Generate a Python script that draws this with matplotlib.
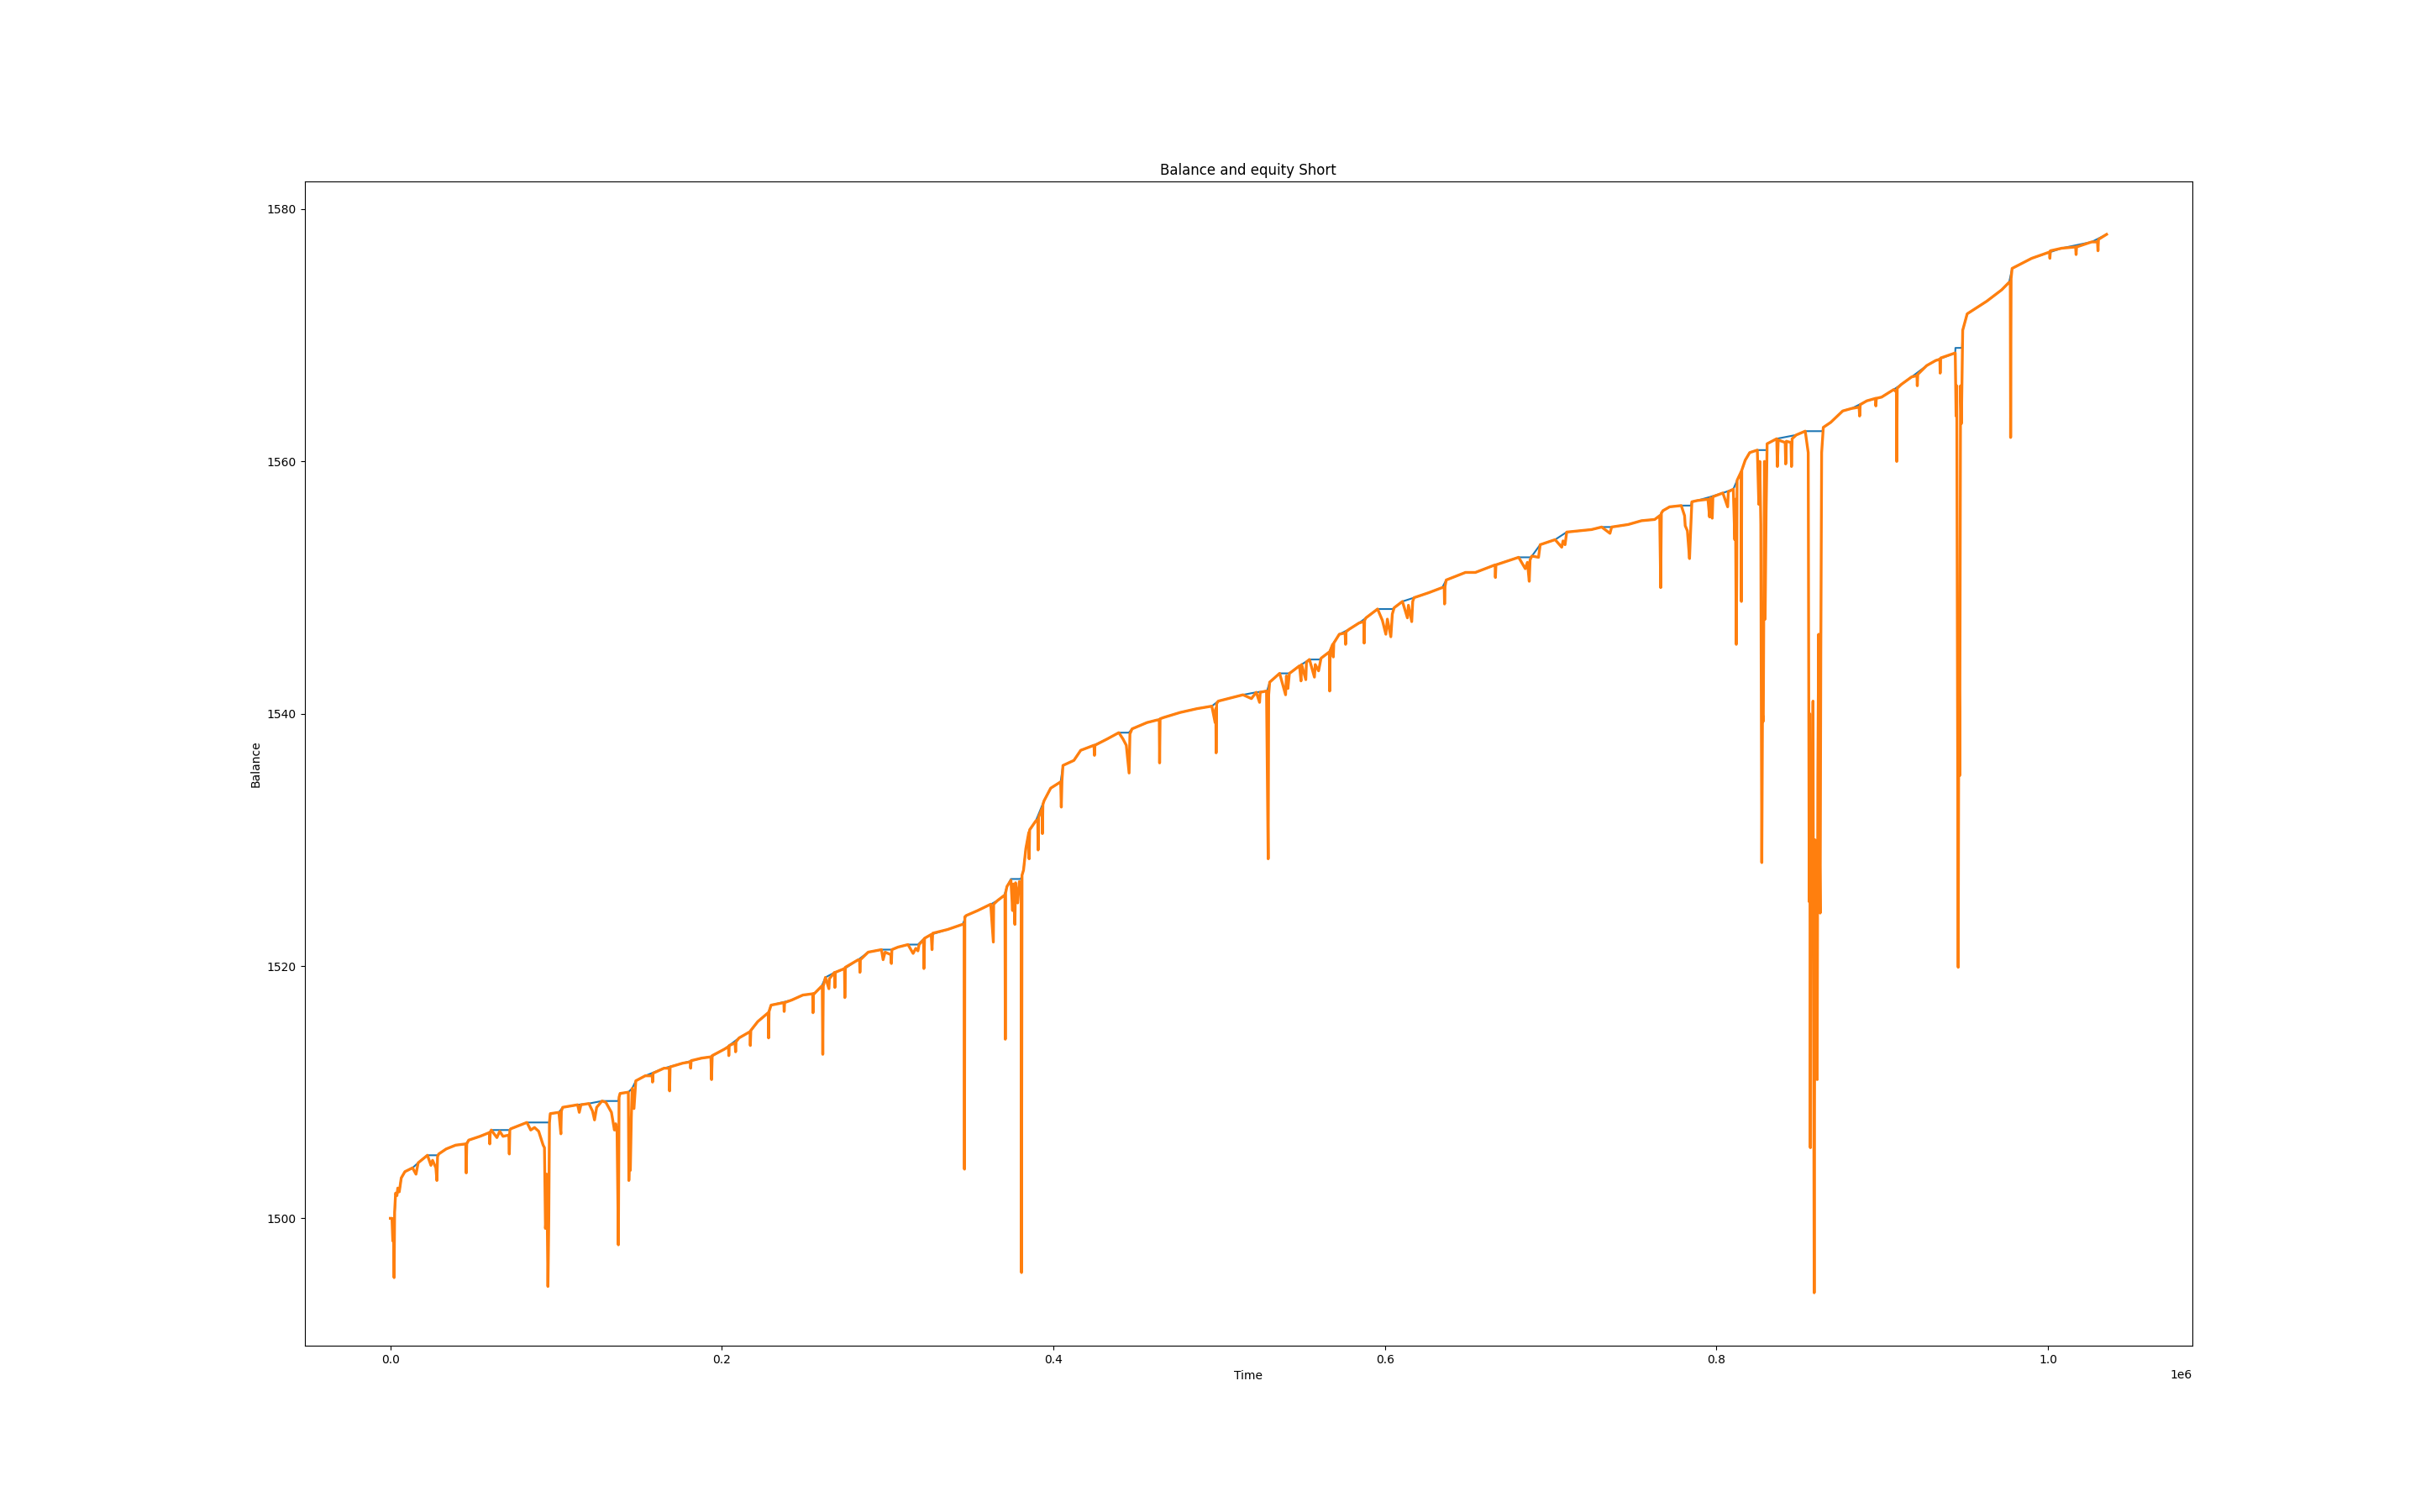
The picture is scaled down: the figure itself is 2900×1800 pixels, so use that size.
import matplotlib
import numpy as np

matplotlib.use("Agg")
import matplotlib.pyplot as plt

# balance curve: (time in thousands, balance)
balance_pts = [
    (0, 1500.0), (2.5, 1500.0), (3.2, 1502.0), (5.4, 1502.1), (6.6, 1503.2),
    (8.8, 1503.7), (13.4, 1504.0), (16.8, 1504.4), (22.4, 1505.0), (28.5, 1505.0),
    (29.2, 1505.1), (33.7, 1505.5), (39.4, 1505.8), (45.5, 1505.9), (47.3, 1506.2),
    (54.1, 1506.5), (59.8, 1506.8), (60.9, 1507.0), (71.8, 1507.0), (72.7, 1507.1),
    (82.4, 1507.6), (96.0, 1507.6), (96.5, 1508.3), (101.7, 1508.4), (104.0, 1508.8),
    (113.0, 1509.0), (119.8, 1509.1), (127.7, 1509.3), (137.5, 1509.3), (138.6, 1509.9),
    (143.6, 1510.0), (145.9, 1510.3), (148.1, 1510.9), (153.8, 1511.3), (165.1, 1511.9),
    (176.4, 1512.3), (187.8, 1512.7), (193.4, 1512.8), (201.4, 1513.4), (210.4, 1514.3),
    (217.2, 1514.8), (221.7, 1515.6), (228.1, 1516.3), (229.7, 1516.9), (242.1, 1517.3),
    (248.9, 1517.7), (255.7, 1517.8), (260.2, 1518.4), (262.5, 1519.1), (268.2, 1519.5),
    (274.2, 1519.8), (282.3, 1520.5), (288.3, 1521.1), (296.3, 1521.3), (302.3, 1521.3),
    (306.3, 1521.5), (312.3, 1521.7), (318.3, 1521.7), (322.3, 1522.2), (326.3, 1522.5),
    (336.3, 1522.9), (345.3, 1523.3), (347.4, 1524.0), (354.4, 1524.4), (362.4, 1524.9),
    (366.4, 1525.2), (370.4, 1525.6), (372.0, 1526.3), (374.4, 1526.9), (380.4, 1526.9),
    (382.0, 1527.6), (383.4, 1529.3), (385.4, 1530.7), (389.4, 1531.5), (394.4, 1533.1),
    (398.4, 1534.1), (404.4, 1534.6), (405.8, 1535.9), (412.4, 1536.3), (416.5, 1537.1),
    (424.5, 1537.5), (432.5, 1538.0), (439.5, 1538.5), (445.5, 1538.5), (447.5, 1538.8),
    (456.5, 1539.3), (462.5, 1539.5), (466.5, 1539.7), (476.5, 1540.1), (486.6, 1540.4),
    (495.6, 1540.6), (499.5, 1541.0), (508.4, 1541.3), (514.4, 1541.5), (522.4, 1541.7),
    (528.9, 1541.8), (530.5, 1542.5), (536.5, 1543.2), (542.0, 1543.2), (543.5, 1543.3),
    (548.5, 1543.8), (554.5, 1544.3), (560.5, 1544.3), (561.5, 1544.4), (566.5, 1544.9),
    (568.5, 1545.5), (572.5, 1546.3), (578.5, 1546.7), (584.5, 1547.2), (588.6, 1547.6),
    (595.6, 1548.3), (604.6, 1548.3), (605.6, 1548.4), (610.6, 1548.9), (617.6, 1549.2),
    (626.6, 1549.6), (634.6, 1550.0), (637.0, 1550.6), (648.6, 1551.2), (654.6, 1551.2),
    (666.7, 1551.8), (680.7, 1552.4), (687.7, 1552.4), (688.7, 1552.5), (693.7, 1553.4),
    (702.7, 1553.8), (709.7, 1554.4), (724.7, 1554.6), (730.8, 1554.8), (736.8, 1554.8),
    (746.8, 1555.0), (754.8, 1555.3), (762.8, 1555.4), (765.8, 1555.7), (767.8, 1556.1),
    (771.8, 1556.4), (778.8, 1556.5), (784.6, 1556.5), (785.2, 1556.8), (788.5, 1556.9),
    (796.6, 1557.2), (803.9, 1557.5), (810.2, 1557.8), (812.5, 1558.5), (815.1, 1559.2),
    (817.4, 1560.1), (820.1, 1560.7), (824.7, 1560.9), (830.4, 1560.9), (830.6, 1561.4),
    (836.4, 1561.8), (848.2, 1562.1), (853.6, 1562.4), (864.0, 1562.4), (864.5, 1562.7),
    (869.0, 1563.1), (876.2, 1564.0), (881.6, 1564.2), (890.7, 1564.8), (899.7, 1565.1),
    (907.0, 1565.7), (911.5, 1566.1), (917.8, 1566.7), (926.9, 1567.6), (932.3, 1568.0),
    (944.1, 1568.6), (944.2, 1569.0), (948.2, 1569.0), (948.6, 1570.4), (951.3, 1571.7),
    (963.1, 1572.7), (972.1, 1573.6), (976.6, 1574.2), (978.4, 1575.3), (990.2, 1576.1),
    (1008.3, 1576.9), (1026.4, 1577.4), (1035.4, 1578.0),
]

# equity curve: (time in thousands, equity)
equity_pts = [
    (0, 1500.0), (1.0, 1500.0), (1.5, 1498.2), (2.0, 1499.5), (2.3, 1495.3),
    (2.6, 1500.5), (3.2, 1502.0), (4.0, 1501.8), (4.5, 1502.4), (5.4, 1502.1),
    (6.6, 1503.2), (8.8, 1503.7), (13.4, 1504.0), (15.5, 1503.5), (16.8, 1504.4),
    (22.4, 1505.0), (24.5, 1504.2), (25.5, 1504.6), (27.5, 1504.0), (28.1, 1503.0),
    (28.5, 1504.9), (29.2, 1505.1), (33.7, 1505.5), (39.4, 1505.8), (45.5, 1505.9),
    (45.8, 1503.6), (46.1, 1505.9), (47.3, 1506.2), (54.1, 1506.5), (59.8, 1506.8),
    (60.0, 1505.9), (60.3, 1506.8), (60.9, 1507.0), (64.3, 1506.4), (66.0, 1506.9),
    (68.0, 1506.5), (71.5, 1506.6), (71.8, 1505.1), (72.1, 1507.0), (72.7, 1507.1),
    (82.4, 1507.6), (84.7, 1507.0), (87.0, 1507.2), (89.5, 1506.9), (92.2, 1505.8),
    (93.0, 1505.6), (93.6, 1499.2), (94.0, 1500.0), (94.4, 1503.5), (95.1, 1494.6),
    (95.6, 1499.8), (96.0, 1507.6), (96.5, 1508.3), (101.7, 1508.4), (102.9, 1506.7),
    (103.2, 1508.5), (104.0, 1508.8), (113.0, 1509.0), (114.0, 1508.4), (115.0, 1509.0),
    (119.8, 1509.1), (122.0, 1508.5), (123.2, 1507.8), (124.5, 1508.8), (127.7, 1509.3),
    (130.0, 1509.2), (133.4, 1508.4), (135.2, 1507.0), (136.0, 1507.5), (136.8, 1506.8),
    (137.6, 1497.9), (138.0, 1509.6), (138.6, 1509.9), (143.6, 1510.0), (143.9, 1503.0),
    (144.4, 1505.5), (144.8, 1503.8), (145.4, 1508.0), (145.9, 1510.3), (147.0, 1508.7),
    (148.1, 1510.9), (153.8, 1511.3), (158.0, 1511.3), (158.2, 1510.8), (158.5, 1511.5),
    (165.1, 1511.9), (168.3, 1511.9), (168.5, 1510.1), (168.8, 1512.0), (176.4, 1512.3),
    (181.0, 1512.4), (181.2, 1511.9), (181.5, 1512.5), (187.8, 1512.7), (193.4, 1512.8),
    (193.8, 1511.0), (194.2, 1512.9), (201.4, 1513.4), (204.0, 1513.6), (204.2, 1512.9),
    (204.5, 1513.7), (208.0, 1513.9), (208.3, 1513.2), (208.6, 1514.0),
    (210.4, 1514.3), (217.0, 1514.8), (217.2, 1513.7), (217.5, 1514.9), (221.7, 1515.6),
    (228.0, 1516.3), (228.2, 1514.3), (228.5, 1516.4), (229.7, 1516.9), (237.4, 1517.1),
    (237.6, 1516.4), (237.9, 1517.1), (242.1, 1517.3), (248.9, 1517.7), (254.8, 1517.8),
    (255.0, 1516.3), (255.3, 1517.8), (255.7, 1517.8), (260.2, 1518.4), (260.6, 1518.3),
    (260.9, 1513.0), (261.2, 1518.4), (262.5, 1519.1), (264.6, 1518.2), (264.9, 1519.0),
    (268.0, 1519.5), (268.2, 1518.3), (268.5, 1519.5), (274.0, 1519.8), (274.2, 1517.5),
    (274.5, 1519.9), (282.3, 1520.5), (283.1, 1520.4), (283.3, 1519.5), (283.6, 1520.5),
    (288.3, 1521.1), (296.3, 1521.3), (297.3, 1520.5), (298.5, 1521.1), (302.0, 1520.9),
    (302.3, 1520.2), (302.6, 1521.3), (306.3, 1521.5), (312.3, 1521.7), (315.4, 1521.0),
    (317.0, 1521.4), (318.3, 1521.2), (319.0, 1521.7), (321.7, 1522.1), (321.9, 1519.8),
    (322.3, 1522.2), (326.3, 1522.5), (326.8, 1521.3), (327.2, 1522.6), (336.3, 1522.9),
    (345.1, 1523.3), (346.2, 1523.3), (346.4, 1503.9), (346.6, 1523.9), (347.4, 1524.0),
    (354.4, 1524.4), (362.2, 1524.9), (363.8, 1521.9), (364.0, 1524.9), (366.4, 1525.2),
    (370.4, 1525.6), (370.8, 1525.4), (371.0, 1514.2), (371.2, 1525.8), (372.0, 1526.3),
    (374.4, 1526.8), (375.4, 1524.4), (375.8, 1526.5), (376.8, 1523.3), (377.2, 1526.6),
    (378.5, 1525.0), (379.5, 1526.7), (380.6, 1526.6), (380.8, 1495.7), (381.1, 1527.2),
    (382.0, 1527.6), (383.4, 1529.3), (385.2, 1530.6), (385.4, 1528.5), (385.7, 1530.8),
    (389.4, 1531.5), (390.6, 1531.6), (390.8, 1529.2), (391.1, 1531.8), (393.2, 1532.5),
    (393.4, 1530.5), (393.7, 1532.8), (394.4, 1533.1), (398.4, 1534.1), (404.4, 1534.6),
    (404.8, 1532.6), (405.2, 1534.7), (405.8, 1535.9), (412.4, 1536.3), (416.5, 1537.1),
    (424.5, 1537.5), (424.8, 1536.7), (425.1, 1537.5), (432.5, 1538.0), (439.5, 1538.5),
    (442.0, 1538.0), (444.0, 1537.5), (445.7, 1535.3), (446.2, 1538.4), (447.5, 1538.8),
    (456.5, 1539.3), (462.5, 1539.5), (463.9, 1539.5), (464.1, 1536.1), (464.4, 1539.6),
    (466.5, 1539.7), (476.5, 1540.1), (486.6, 1540.4), (495.6, 1540.6), (497.6, 1539.3),
    (498.0, 1540.4), (498.2, 1536.9), (498.5, 1540.8), (499.5, 1541.0), (508.4, 1541.3),
    (514.4, 1541.5), (519.5, 1541.2), (522.4, 1541.7), (524.4, 1540.9), (524.8, 1541.7),
    (528.6, 1541.8), (529.6, 1528.5), (529.9, 1541.5), (530.5, 1542.5), (536.5, 1543.2),
    (540.1, 1541.5), (540.6, 1543.0), (541.5, 1542.0), (542.4, 1543.2), (543.5, 1543.3),
    (548.5, 1543.8), (549.4, 1542.6), (549.8, 1543.9), (552.3, 1542.7), (552.7, 1544.1),
    (554.5, 1544.3), (557.5, 1542.9), (558.0, 1543.9), (560.0, 1543.4), (561.5, 1544.4),
    (566.5, 1544.9), (566.7, 1541.8), (567.0, 1545.0), (568.5, 1545.5), (568.9, 1544.5),
    (569.2, 1545.6), (572.5, 1546.3), (576.0, 1546.4), (576.3, 1545.5), (576.6, 1546.5),
    (578.5, 1546.7), (584.5, 1547.2), (587.3, 1547.3), (587.5, 1545.6), (587.8, 1547.4),
    (588.6, 1547.6), (595.6, 1548.3), (598.5, 1547.4), (600.6, 1546.3), (601.5, 1547.5),
    (603.6, 1546.1), (604.5, 1547.9), (605.6, 1548.4), (610.6, 1548.9), (613.6, 1547.6),
    (614.2, 1548.6), (616.2, 1547.3), (616.8, 1548.9), (617.6, 1549.2), (626.6, 1549.6),
    (634.6, 1550.0), (635.8, 1550.0), (636.0, 1548.7), (636.3, 1550.1), (637.0, 1550.6),
    (648.6, 1551.2), (654.6, 1551.2), (666.5, 1551.8), (666.7, 1550.8), (667.0, 1551.8),
    (680.7, 1552.4), (684.7, 1551.5), (686.0, 1552.0), (687.1, 1550.5), (687.6, 1552.2),
    (688.7, 1552.5), (692.7, 1552.4), (693.7, 1553.4), (702.7, 1553.8), (706.7, 1553.2),
    (707.5, 1553.7), (708.7, 1553.4), (709.7, 1554.4), (724.7, 1554.6), (730.8, 1554.8),
    (735.8, 1554.3), (736.8, 1554.8), (746.8, 1555.0), (754.8, 1555.3), (762.8, 1555.4),
    (765.8, 1555.7), (766.4, 1550.0), (766.8, 1555.9), (767.8, 1556.1), (771.8, 1556.4),
    (778.8, 1556.5), (780.8, 1555.7), (781.2, 1554.9), (782.5, 1554.5), (783.8, 1552.3),
    (784.3, 1554.0), (785.2, 1556.8), (788.5, 1556.9), (794.9, 1557.0), (795.9, 1555.6),
    (796.3, 1557.1), (797.5, 1555.5), (797.9, 1557.2), (803.9, 1557.5), (806.8, 1556.4),
    (807.2, 1557.6), (810.2, 1557.8), (811.1, 1553.8), (811.5, 1557.0), (812.0, 1545.5),
    (812.3, 1551.0), (812.5, 1558.5), (815.0, 1559.2), (815.1, 1548.9), (815.3, 1559.3),
    (817.4, 1560.1), (820.1, 1560.7), (824.7, 1560.9), (825.6, 1556.6), (826.2, 1560.0),
    (826.8, 1555.0), (827.0, 1545.0), (827.4, 1528.2), (827.8, 1540.0), (828.3, 1539.4),
    (828.6, 1548.0), (829.0, 1560.0), (829.4, 1547.5), (830.0, 1556.0), (830.6, 1561.4),
    (836.4, 1561.8), (836.8, 1559.6), (837.3, 1561.7), (841.5, 1561.5), (841.8, 1559.8),
    (842.2, 1561.6), (845.0, 1561.5), (845.3, 1559.6), (845.7, 1561.8), (848.2, 1562.1),
    (853.6, 1562.4), (855.4, 1560.7), (856.0, 1525.1), (856.3, 1540.0), (856.7, 1505.6),
    (857.1, 1535.0), (857.6, 1528.0), (858.3, 1541.0), (859.0, 1494.1), (859.5, 1530.0),
    (860.0, 1526.0), (860.8, 1511.0), (861.2, 1535.0), (861.7, 1546.3), (862.2, 1530.0),
    (862.6, 1524.2), (863.0, 1545.0), (863.5, 1560.7), (864.5, 1562.7), (869.0, 1563.1),
    (876.2, 1564.0), (881.6, 1564.2), (886.1, 1564.3), (886.4, 1563.6), (886.8, 1564.5),
    (890.7, 1564.8), (896.0, 1565.0), (896.2, 1564.4), (896.5, 1565.0),
    (899.7, 1565.1), (907.0, 1565.7), (908.6, 1565.5), (908.8, 1560.0),
    (909.1, 1565.8), (911.5, 1566.1), (917.8, 1566.7), (921.0, 1566.8), (921.2, 1566.0),
    (921.5, 1566.9), (926.9, 1567.6), (932.3, 1568.0), (934.8, 1568.1), (935.0, 1567.0),
    (935.3, 1568.2), (944.1, 1568.6), (944.6, 1563.6), (945.0, 1566.0), (945.9, 1519.9),
    (946.3, 1545.0), (946.8, 1535.1), (947.3, 1566.0), (947.8, 1563.0), (948.6, 1570.4),
    (951.3, 1571.7), (963.1, 1572.7), (972.1, 1573.6), (976.6, 1574.2), (977.3, 1574.0),
    (977.5, 1561.9), (977.8, 1574.5), (978.4, 1575.3), (990.2, 1576.1), (1001.0, 1576.6),
    (1001.2, 1576.1), (1001.5, 1576.7), (1008.3, 1576.9),
    (1016.7, 1577.0), (1017.0, 1576.4), (1017.3, 1577.0), (1026.4, 1577.4), (1029.9, 1577.4),
    (1030.2, 1576.7), (1030.5, 1577.6), (1035.4, 1578.0),
]


def build_plot():
    bal = np.array(balance_pts)
    eq = np.array(equity_pts)

    fig, ax = plt.subplots(figsize=(29, 18), dpi=100)
    ax.plot(bal[:, 0] * 1000, bal[:, 1])
    # equity drawn a little heavier: the original is dense tick data
    ax.plot(eq[:, 0] * 1000, eq[:, 1], linewidth=2.4)
    ax.set_title("Balance and equity Short")
    ax.set_xlabel("Time")
    ax.set_ylabel("Balance")
    return fig, ax


def main() -> None:
    fig, _ = build_plot()
    fig.savefig("out.png", dpi=100)


if __name__ == "__main__":
    main()
